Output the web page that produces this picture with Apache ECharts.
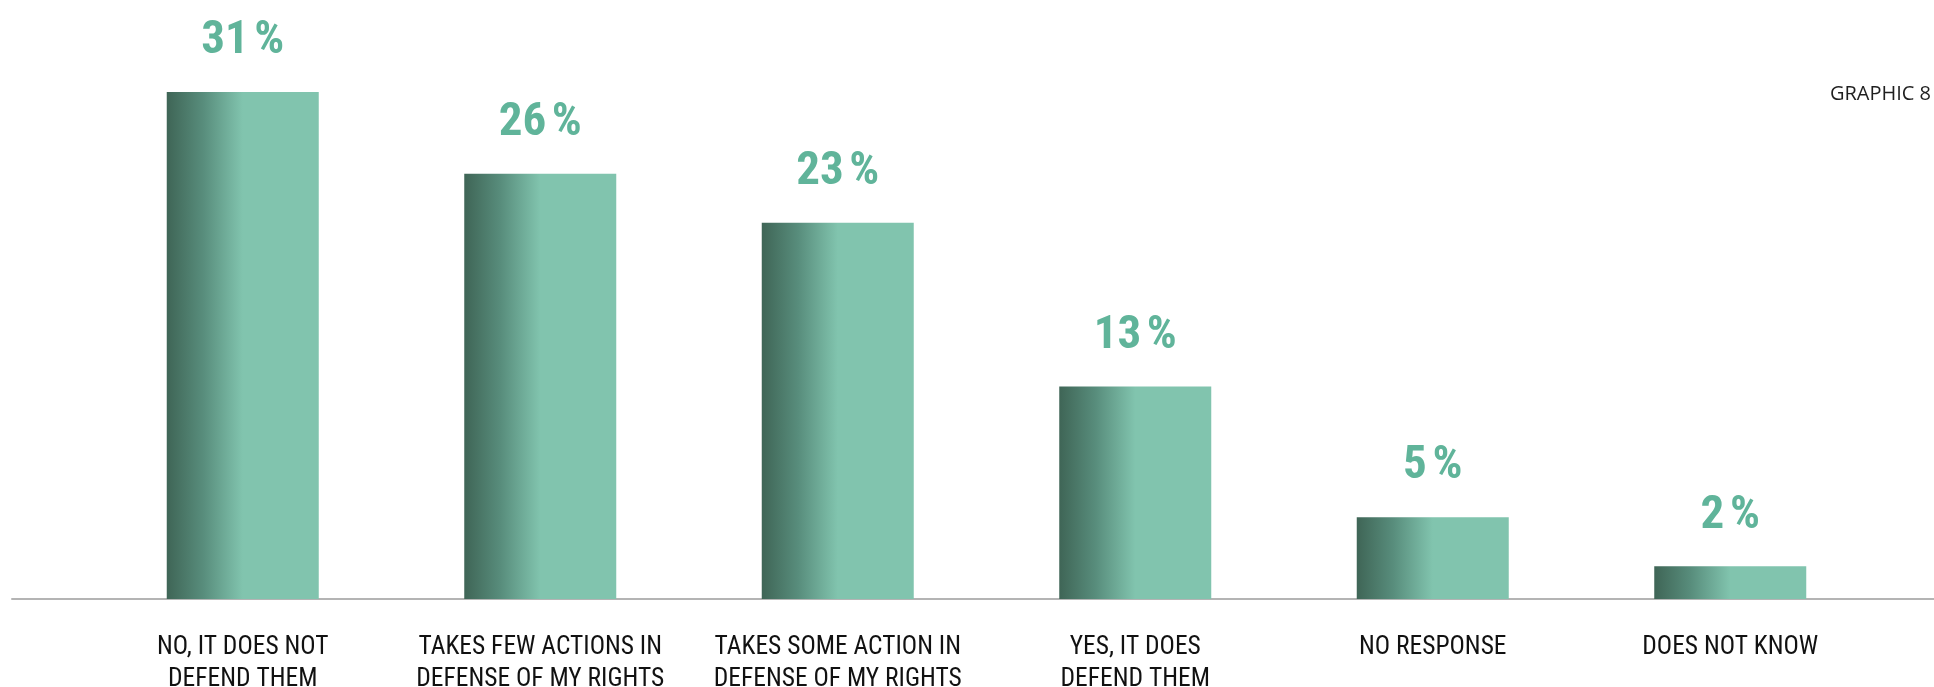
<!DOCTYPE html>
<html>
<head>
<meta charset="utf-8">
<style>
  html, body { margin: 0; padding: 0; background: #ffffff; }
  #chart { width: 1934px; height: 687px; }
</style>
<script src="https://cdn.jsdelivr.net/npm/echarts@6/dist/echarts.min.js"></script>
</head>
<body>
<div id="chart"></div>
<script>
// Answer categories (two-line labels) and their shares in percent
const categories = [
  'NO, IT DOES NOT\nDEFEND THEM',
  'TAKES FEW ACTIONS IN\nDEFENSE OF MY RIGHTS',
  'TAKES SOME ACTION IN\nDEFENSE OF MY RIGHTS',
  'YES, IT DOES\nDEFEND THEM',
  'NO RESPONSE',
  'DOES NOT KNOW'
];
const shares = [31, 26, 23, 13, 5, 2];
const chartTag = 'GRAPHIC 8';

const narrow = '"Roboto Condensed", "Open Sans Condensed", "Liberation Sans Narrow", "Arial Narrow", "DejaVu Sans Condensed", sans-serif';

// Dark-to-light horizontal fill that flattens out halfway across each bar
const barFill = new echarts.graphic.LinearGradient(0, 0, 1, 0, [
  { offset: 0, color: '#3f6556' },
  { offset: 0.24, color: '#588d7c' },
  { offset: 0.5, color: '#81c4ae' },
  { offset: 1, color: '#81c4ae' }
]);

const chart = echarts.init(document.getElementById('chart'), null, { renderer: 'canvas' });

chart.setOption({
  animation: false,
  backgroundColor: '#ffffff',
  title: {
    text: chartTag,
    right: -2,
    top: 79,
    textStyle: {
      fontFamily: '"Open Sans", "Noto Sans", sans-serif',
      fontWeight: 'normal',
      fontSize: 20,
      color: '#1f1f1f'
    }
  },
  grid: [
    { left: 94, right: 55, top: 92, bottom: 88, outerBoundsMode: 'none', containLabel: false },
    { left: 12, right: 0, top: 92, bottom: 88, outerBoundsMode: 'none', containLabel: false }
  ],
  xAxis: [
    {
      type: 'category',
      gridIndex: 0,
      data: categories,
      axisLine: { show: false },
      axisTick: { show: false },
      axisLabel: {
        interval: 0,
        margin: 33,
        fontFamily: narrow,
        fontSize: 25.5,
        lineHeight: 32,
        color: '#111111'
      }
    },
    {
      // full-width baseline under the bars
      type: 'value',
      gridIndex: 1,
      min: 0,
      max: 1,
      axisLine: { show: true, lineStyle: { color: '#b4b4b4', width: 2 } },
      axisTick: { show: false },
      axisLabel: { show: false },
      splitLine: { show: false }
    }
  ],
  yAxis: [
    { type: 'value', gridIndex: 0, min: 0, max: 31, show: false },
    { type: 'value', gridIndex: 1, min: 0, max: 1, show: false }
  ],
  series: [
    {
      type: 'bar',
      xAxisIndex: 0,
      yAxisIndex: 0,
      data: shares,
      barWidth: 152,
      itemStyle: { color: barFill },
      label: {
        show: true,
        position: 'top',
        distance: 27,
        formatter: p => '{v|' + p.value + '}{s| }{v|%}',
        rich: {
          v: { fontFamily: narrow, fontWeight: 'bold', fontSize: 47, color: '#60b49a' },
          s: { fontFamily: narrow, fontSize: 24 }
        }
      }
    }
  ]
});
</script>
</body>
</html>
